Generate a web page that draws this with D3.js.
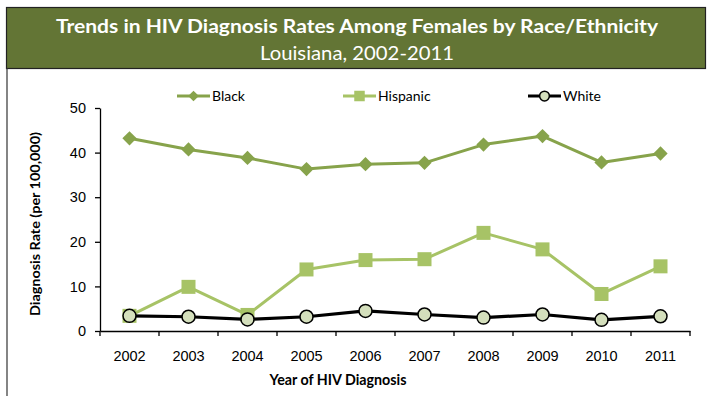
<!DOCTYPE html>
<html>
<head>
<meta charset="utf-8">
<script src="https://cdn.jsdelivr.net/npm/d3@7"></script>
<style>
  html, body { margin: 0; padding: 0; background: #fff; }
  svg { display: block; font-family: Lato, "Open Sans", sans-serif; }
</style>
</head>
<body>
<svg id="chart" width="707" height="396"></svg>
<script>
// Female HIV diagnosis rates per 100,000, Louisiana
const years = ["2002","2003","2004","2005","2006","2007","2008","2009","2010","2011"];
const black    = [43.2, 40.7, 38.8, 36.3, 37.4, 37.7, 41.8, 43.7, 37.8, 39.8];
const hispanic = [3.4, 9.9, 3.6, 13.8, 15.9, 16.1, 22.0, 18.3, 8.3, 14.5];
const white    = [3.4, 3.2, 2.6, 3.2, 4.5, 3.7, 3.0, 3.7, 2.5, 3.3];
const yTicks   = [0, 10, 20, 30, 40, 50];

const series = [
  { name: "Black",    values: black,    color: "#87A34B", shape: "diamond", width: 3 },
  { name: "Hispanic", values: hispanic, color: "#A7C366", shape: "square",  width: 3 },
  { name: "White",    values: white,    color: "#000000", shape: "circle",  width: 3.2 }
];

const svg = d3.select("#chart");

// Header band
svg.append("rect").attr("x", 6.5).attr("y", 7.5).attr("width", 699).attr("height", 61)
  .attr("fill", "#637535").attr("stroke", "#222").attr("stroke-width", 1.2);
svg.append("line").attr("x1", 7).attr("x2", 7).attr("y1", 68).attr("y2", 396)
  .attr("stroke", "#333").attr("stroke-width", 1.2);
svg.append("text").attr("x", 357).attr("y", 33).attr("text-anchor", "middle")
  .attr("fill", "#fff").attr("font-weight", "bold").attr("font-size", 19.5)
  .attr("textLength", 602).attr("lengthAdjust", "spacingAndGlyphs")
  .text("Trends in HIV Diagnosis Rates Among Females by Race/Ethnicity");
svg.append("text").attr("x", 357).attr("y", 60).attr("text-anchor", "middle")
  .attr("fill", "#fff").attr("font-size", 19)
  .attr("textLength", 194).attr("lengthAdjust", "spacingAndGlyphs")
  .text("Louisiana, 2002-2011");

// Scales
const x = d3.scaleBand().domain(years).range([100, 690]);
const y = d3.scaleLinear().domain([0, 50]).range([331, 108]);

// Axes
const xAxis = svg.append("g").attr("transform", "translate(0,331)")
  .call(d3.axisBottom(x).tickSize(0).tickPadding(20));
xAxis.select(".domain").attr("stroke", "#000").attr("stroke-width", 1.3);
xAxis.selectAll("text").attr("font-size", 14.5).attr("fill", "#000");
// category boundary ticks
const bounds = years.map(d => x(d)).concat([x.range()[1]]);
xAxis.selectAll(".bt").data(bounds).enter().append("line")
  .attr("x1", d => d).attr("x2", d => d).attr("y1", 0).attr("y2", 5)
  .attr("stroke", "#000").attr("stroke-width", 1.3);

const yAxis = svg.append("g").attr("transform", "translate(100,0)")
  .call(d3.axisLeft(y).tickValues(yTicks).tickSize(5).tickPadding(9).tickSizeOuter(0));
yAxis.select(".domain").attr("stroke", "#000").attr("stroke-width", 1.3);
yAxis.selectAll("line").attr("stroke", "#000").attr("stroke-width", 1.3);
yAxis.selectAll("text").attr("font-size", 14.5).attr("fill", "#000");

// Axis titles
svg.append("text").attr("transform", "translate(40,224) rotate(-90)")
  .attr("text-anchor", "middle").attr("font-weight", "bold").attr("font-size", 14)
  .attr("textLength", 184).attr("lengthAdjust", "spacingAndGlyphs")
  .text("Diagnosis Rate (per 100,000)");
svg.append("text").attr("x", 338).attr("y", 385).attr("text-anchor", "middle")
  .attr("font-weight", "bold").attr("font-size", 14.5)
  .attr("textLength", 137).attr("lengthAdjust", "spacingAndGlyphs")
  .text("Year of HIV Diagnosis");

// Marker drawing
function marker(g, s, cx, cy, scale) {
  if (s.shape === "diamond") {
    g.append("path").attr("d", d3.symbol(d3.symbolDiamond2, 130 * scale * scale)())
      .attr("transform", `translate(${cx},${cy})`)
      .attr("fill", s.color);
  } else if (s.shape === "square") {
    g.append("rect").attr("x", cx - 7 * scale).attr("y", cy - 7 * scale)
      .attr("width", 14 * scale).attr("height", 14 * scale).attr("fill", s.color);
  } else {
    g.append("circle").attr("cx", cx).attr("cy", cy).attr("r", 6.5 * scale)
      .attr("fill", "#D4DFBC").attr("stroke", "#000").attr("stroke-width", 1.5);
  }
}

// Lines and markers
const line = d3.line().x((d, i) => x(years[i]) + x.bandwidth() / 2).y(d => y(d));
series.forEach(s => {
  const g = svg.append("g");
  g.append("path").datum(s.values).attr("d", line)
    .attr("fill", "none").attr("stroke", s.color).attr("stroke-width", s.width)
    .attr("stroke-linejoin", "round");
  s.values.forEach((v, i) => marker(g, s, x(years[i]) + x.bandwidth() / 2, y(v), 1));
});

// Legend
const legendX = [177, 343, 528];
series.forEach((s, i) => {
  const g = svg.append("g");
  const lx = legendX[i], ly = 96;
  g.append("line").attr("x1", lx).attr("x2", lx + 33).attr("y1", ly).attr("y2", ly)
    .attr("stroke", s.color).attr("stroke-width", s.width);
  marker(g, s, lx + 16.5, ly, 0.75);
  g.append("text").attr("x", lx + 35).attr("y", ly + 5).attr("font-size", 14)
    .text(s.name);
});
</script>
</body>
</html>
